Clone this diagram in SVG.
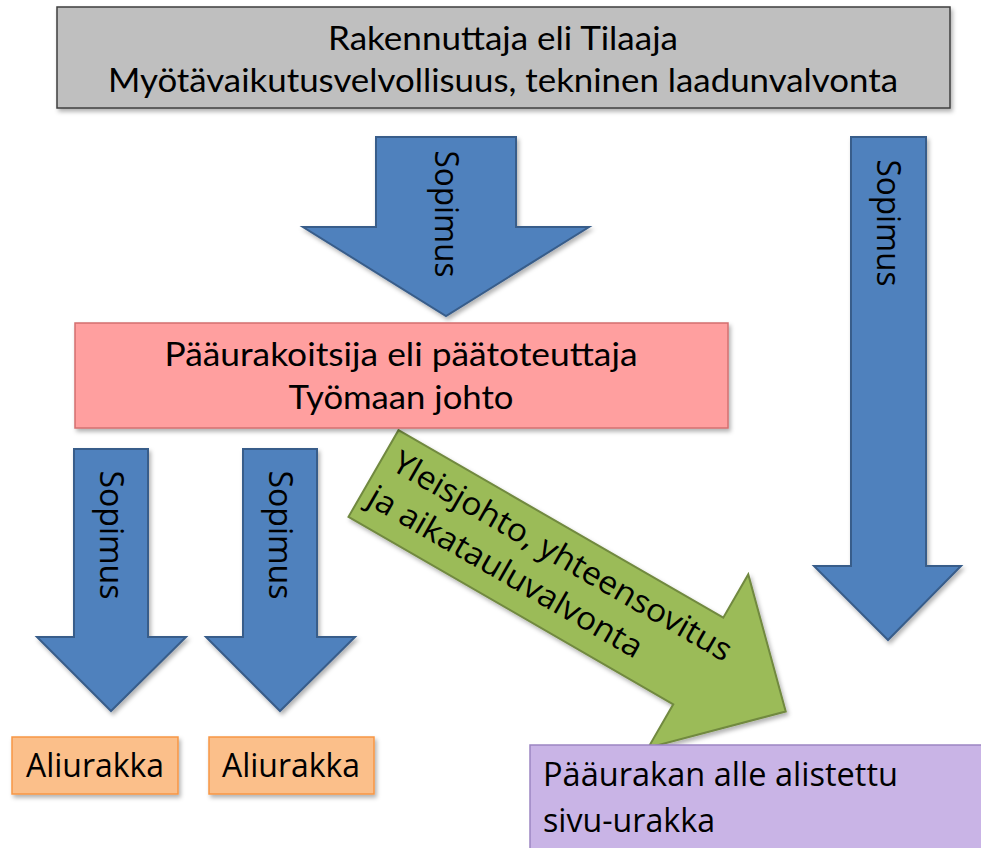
<svg xmlns="http://www.w3.org/2000/svg" width="981" height="848" viewBox="0 0 981 848">
  <defs>
    <filter id="shadow" x="-10%" y="-10%" width="120%" height="130%">
      <feDropShadow dx="2" dy="3" stdDeviation="2" flood-color="#000" flood-opacity="0.3"/>
    </filter>
    <style>
      .lbl { font-family: "Open Sans", "Liberation Sans", sans-serif; fill: #000; }
      .cal { font-family: Lato, "Open Sans", sans-serif; fill: #000; }
      .box-top { fill: #bfbfbf; stroke: #3f3f3f; stroke-width: 1.5; }
      .box-main { fill: #ff9f9f; stroke: #d46f6f; stroke-width: 1.5; }
      .box-sub { fill: #fbbf8a; stroke: #f79646; stroke-width: 1.5; }
      .box-side { fill: #c9b4e6; stroke: #9c85c2; stroke-width: 1.5; }
      .arrow-blue { fill: #4f81bd; stroke: #385d8a; stroke-width: 2; }
      .arrow-green { fill: #9bbb59; stroke: #71893f; stroke-width: 2; }
    </style>
  </defs>

  <rect width="981" height="848" fill="#fff"/>

  <!-- Block arrows -->
  <g id="connectors">
    <g filter="url(#shadow)">
      <!-- Tilaaja -> pääurakoitsija -->
      <polygon class="arrow-blue" points="376,137 516,137 516,227 589,227 446,316 303,227 376,227"/>
      <!-- Tilaaja -> sivu-urakka -->
      <polygon class="arrow-blue" points="851,137 926,137 926,566 961,566 888,640 814,566 851,566"/>
      <!-- Pääurakoitsija -> aliurakat -->
      <polygon class="arrow-blue" points="74,449 148,449 148,637 186,637 111,711 37,637 74,637"/>
      <polygon class="arrow-blue" points="243,449 317,449 317,637 355,637 280,711 206,637 243,637"/>
      <!-- Pääurakoitsija -> sivu-urakka -->
      <polygon class="arrow-green" transform="translate(373.5,473.5) rotate(30)" points="0,-50 375,-50 375,-100 476,0 375,100 375,50 0,50"/>
    </g>

    <text class="lbl" font-size="32" text-anchor="middle" transform="translate(435,214) rotate(90)" textLength="127" lengthAdjust="spacingAndGlyphs">Sopimus</text>
    <text class="lbl" font-size="32" text-anchor="middle" transform="translate(877,223) rotate(90)" textLength="127" lengthAdjust="spacingAndGlyphs">Sopimus</text>
    <text class="lbl" font-size="32" text-anchor="middle" transform="translate(100,535) rotate(90)" textLength="129" lengthAdjust="spacingAndGlyphs">Sopimus</text>
    <text class="lbl" font-size="32" text-anchor="middle" transform="translate(269,535) rotate(90)" textLength="129" lengthAdjust="spacingAndGlyphs">Sopimus</text>

    <g transform="translate(373.5,473.5) rotate(30)">
      <text class="lbl" font-size="32" x="12" y="-12" textLength="386" lengthAdjust="spacingAndGlyphs">Yleisjohto, yhteensovitus</text>
      <text class="lbl" font-size="32" x="8" y="30" textLength="311" lengthAdjust="spacingAndGlyphs">ja aikatauluvalvonta</text>
    </g>
  </g>

  <!-- Rakennuttaja -->
  <g id="tilaaja">
    <rect class="box-top" x="57" y="7" width="893" height="101" filter="url(#shadow)"/>
    <text class="cal" font-size="33" x="503" y="50" text-anchor="middle" textLength="350" lengthAdjust="spacingAndGlyphs">Rakennuttaja eli Tilaaja</text>
    <text class="cal" font-size="33" x="503" y="92" text-anchor="middle" textLength="790" lengthAdjust="spacingAndGlyphs">Myötävaikutusvelvollisuus, tekninen laadunvalvonta</text>
  </g>

  <!-- Pääurakoitsija -->
  <g id="paaurakoitsija">
    <rect class="box-main" x="75" y="323" width="653" height="105" filter="url(#shadow)"/>
    <text class="cal" font-size="33" x="401" y="366" text-anchor="middle" textLength="473" lengthAdjust="spacingAndGlyphs">Pääurakoitsija eli päätoteuttaja</text>
    <text class="cal" font-size="33" x="401" y="409" text-anchor="middle" textLength="225" lengthAdjust="spacingAndGlyphs">Työmaan johto</text>
  </g>

  <!-- Aliurakat -->
  <g id="aliurakka-1">
    <rect class="box-sub" x="12" y="737" width="166" height="57" filter="url(#shadow)"/>
    <text class="lbl" font-size="33" x="95" y="777" text-anchor="middle" textLength="138" lengthAdjust="spacingAndGlyphs">Aliurakka</text>
  </g>
  <g id="aliurakka-2">
    <rect class="box-sub" x="209" y="737" width="165" height="57" filter="url(#shadow)"/>
    <text class="lbl" font-size="33" x="291" y="777" text-anchor="middle" textLength="138" lengthAdjust="spacingAndGlyphs">Aliurakka</text>
  </g>

  <!-- Sivu-urakka -->
  <g id="sivu-urakka">
    <rect class="box-side" x="530" y="745" width="470" height="120"/>
    <text class="lbl" font-size="32" x="543" y="786" textLength="355" lengthAdjust="spacingAndGlyphs">Pääurakan alle alistettu</text>
    <text class="lbl" font-size="32" x="543" y="832" textLength="172" lengthAdjust="spacingAndGlyphs">sivu-urakka</text>
  </g>
</svg>
